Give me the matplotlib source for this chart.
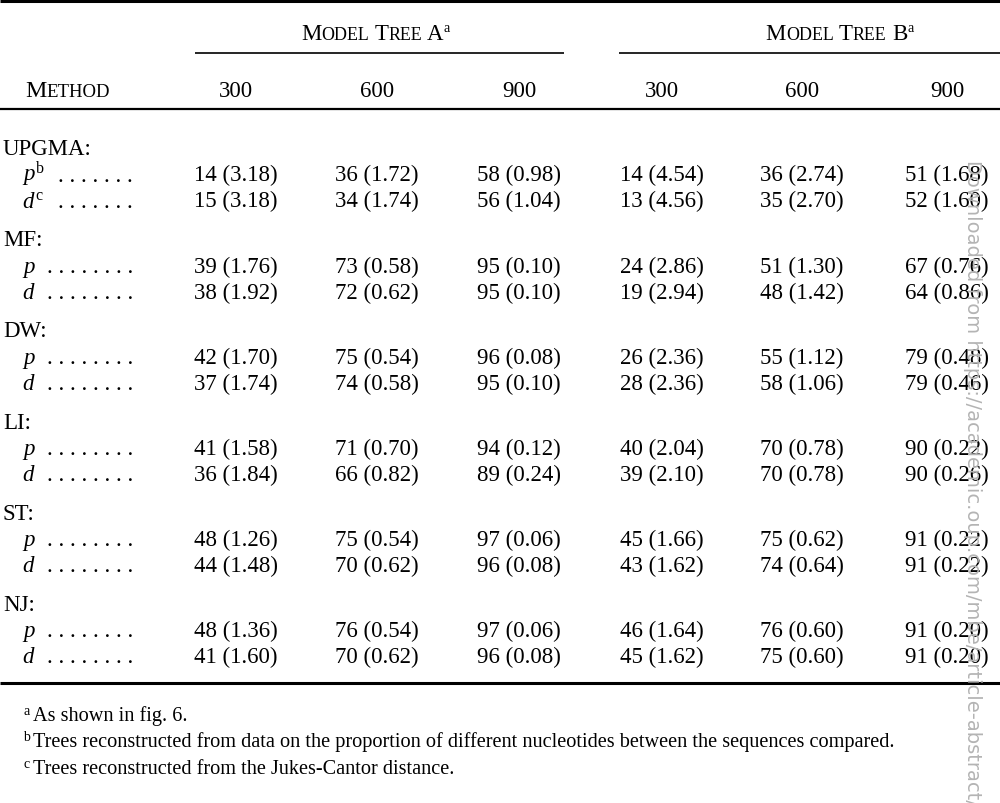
"""
Table: percentage of correct trees (SE) for each tree-building method
"""
import matplotlib
matplotlib.use('Agg')
import matplotlib.pyplot as plt

plt.rcParams['font.family'] = ['Liberation Serif', 'DejaVu Serif']
plt.rcParams['mathtext.fontset'] = 'custom'
plt.rcParams['mathtext.rm'] = 'Liberation Serif'
plt.rcParams['mathtext.it'] = 'Liberation Serif:italic'

# Données du tableau
methods = ['UPGMA', 'MF', 'DW', 'LI', 'ST', 'NJ']
lengths = [300, 600, 900]
tree_names = ['Model Tree A', 'Model Tree B']

tree_a_p_pct = [[14, 36, 58], [39, 73, 95], [42, 75, 96], [41, 71, 94], [48, 75, 97], [48, 76, 97]]
tree_a_p_se = [[3.18, 1.72, 0.98], [1.76, 0.58, 0.10], [1.70, 0.54, 0.08], [1.58, 0.70, 0.12], [1.26, 0.54, 0.06], [1.36, 0.54, 0.06]]
tree_a_d_pct = [[15, 34, 56], [38, 72, 95], [37, 74, 95], [36, 66, 89], [44, 70, 96], [41, 70, 96]]
tree_a_d_se = [[3.18, 1.74, 1.04], [1.92, 0.62, 0.10], [1.74, 0.58, 0.10], [1.84, 0.82, 0.24], [1.48, 0.62, 0.08], [1.60, 0.62, 0.08]]

tree_b_p_pct = [[14, 36, 51], [24, 51, 67], [26, 55, 79], [40, 70, 90], [45, 75, 91], [46, 76, 91]]
tree_b_p_se = [[4.54, 2.74, 1.68], [2.86, 1.30, 0.76], [2.36, 1.12, 0.48], [2.04, 0.78, 0.22], [1.66, 0.62, 0.22], [1.64, 0.60, 0.20]]
tree_b_d_pct = [[13, 35, 52], [19, 48, 64], [28, 58, 79], [39, 70, 90], [43, 74, 91], [45, 75, 91]]
tree_b_d_se = [[4.56, 2.70, 1.60], [2.94, 1.42, 0.86], [2.36, 1.06, 0.46], [2.10, 0.78, 0.26], [1.62, 0.64, 0.22], [1.62, 0.60, 0.20]]

footnotes = [
    ('a', 'As shown in fig. 6.'),
    ('b', 'Trees reconstructed from data on the proportion of different nucleotides between the sequences compared.'),
    ('c', 'Trees reconstructed from the Jukes-Cantor distance.'),
]
watermark = 'Downloaded from https://academic.oup.com/mbe/article-abstract/'

FS = 16.5
fig = plt.figure(figsize=(10, 8.04), dpi=100)
ax = fig.add_axes([0, 0, 1, 1])
ax.set_xlim(0, 1000)
ax.set_ylim(804, 0)
ax.axis('off')
renderer = fig.canvas.get_renderer()


def small_caps(x, y, text, size, sup=None, ratio=0.78, ha='center'):
    """Texte en petites capitales (ligne de base y), centré ou aligné à gauche sur x"""
    pieces = []
    words = text.split(' ')
    for k, w in enumerate(words):
        pieces.append((w[0], size, 0, 0))
        if len(w) > 1:
            pieces.append((w[1:].upper(), size * ratio, 0, 0))
        if k < len(words) - 1:
            pieces.append(None)
    if sup:
        pieces.append((sup, size * 0.62, -8, 1))
    objs, widths = [], []
    for p in pieces:
        if p is None:
            objs.append(None)
            widths.append(size * 0.32)
            continue
        t = ax.text(0, y + p[2], p[0], fontsize=p[1], ha='left', va='baseline')
        objs.append(t)
        widths.append(t.get_window_extent(renderer).width + p[3])
    cur = x - sum(widths) / 2 if ha == 'center' else x
    for t, w in zip(objs, widths):
        if t is not None:
            t.set_x(cur)
        cur += w


# Filets horizontaux
ax.plot([0, 1000], [2, 2], color='black', lw=2.2, solid_capstyle='butt')
ax.plot([195, 564], [54, 54], color='black', lw=1.2, solid_capstyle='butt')
ax.plot([619, 1000], [54, 54], color='black', lw=1.2, solid_capstyle='butt')
ax.plot([0, 1000], [110, 110], color='black', lw=1.6, solid_capstyle='butt')
ax.plot([0, 1000], [684, 684], color='black', lw=2.2, solid_capstyle='butt')

# En-têtes
col_x = [[236, 377, 519], [662, 802, 947]]
tree_center = [376, 840]
for i, name in enumerate(tree_names):
    small_caps(tree_center[i], 40, name, FS, sup='a')
    for j, n in enumerate(lengths):
        ax.text(col_x[i][j], 97, str(n), fontsize=FS, ha='center', va='baseline')
small_caps(25, 97, 'Method', FS * 1.05, ha='left')

# Corps du tableau
data = [
    ('p', tree_a_p_pct, tree_a_p_se, tree_b_p_pct, tree_b_p_se),
    ('d', tree_a_d_pct, tree_a_d_se, tree_b_d_pct, tree_b_d_se),
]
group_y0 = 155
group_dy = 91.2
for g, m in enumerate(methods):
    gy = group_y0 + g * group_dy
    ax.text(3, gy, m + ':', fontsize=FS, ha='left', va='baseline')
    for r, (lab, apct, ase, bpct, bse) in enumerate(data):
        ry = gy + 26.5 + r * 26
        if g == 0:
            sup = 'b' if lab == 'p' else 'c'
            ax.text(22, ry, '$' + lab + '^{\\mathrm{' + sup + '}}$', fontsize=FS, ha='left', va='baseline')
            ndots = 7
        else:
            ax.text(22, ry, '$' + lab + '$', fontsize=FS, ha='left', va='baseline')
            ndots = 8
        ax.text(133, ry, ' '.join(['.'] * ndots), fontsize=FS, ha='right', va='baseline')
        for i, (pct, se) in enumerate([(apct, ase), (bpct, bse)]):
            for j in range(len(lengths)):
                ax.text(col_x[i][j], ry, f'{pct[g][j]} ({se[g][j]:.2f})',
                        fontsize=FS, ha='center', va='baseline')

# Notes de bas de tableau
for k, (mark, note) in enumerate(footnotes):
    y = 721 + k * 26.5
    ax.text(23, y - 6, mark, fontsize=10, ha='left', va='baseline')
    ax.text(33, y, note, fontsize=14.6, ha='left', va='baseline')

# Filigrane
ax.text(972, 160, watermark, fontsize=14, family='DejaVu Sans', color='#b4b4b4',
        rotation=-90, ha='center', va='top', clip_on=True)

plt.savefig('out.png', dpi=100)
